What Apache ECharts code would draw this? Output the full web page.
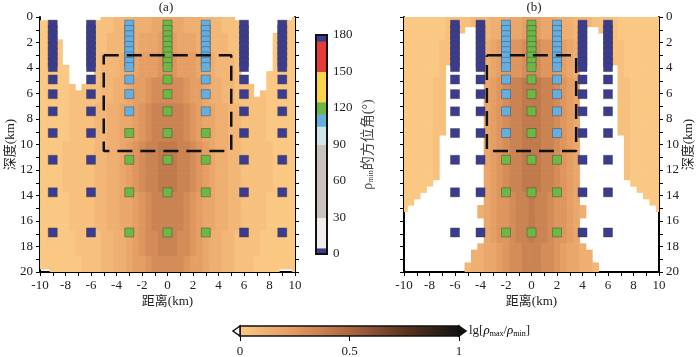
<!DOCTYPE html>
<html><head><meta charset="utf-8">
<script src="https://cdn.jsdelivr.net/npm/echarts@6/dist/echarts.min.js"></script>
<style>html,body{margin:0;padding:0;background:#fff}#c{width:700px;height:357px}</style>
</head><body><div id="c"></div>
<script>
// ---------------- data ----------------
const distTicks = [-10,-8,-6,-4,-2,0,2,4,6,8,10];
const depthTicks = [0,2,4,6,8,10,12,14,16,18,20];
const aziTicks = [0,30,60,90,120,150,180];
const ratioTicks = [0,0.5,1];

// cell centres of the gridded lg(rho_max/rho_min) field (km)
const cellX = [-10,-9.5,-9,-8.5,-8,-7.5,-7,-6.5,-6,-5.5,-5,-4.5,-4,-3.5,-3,-2.5,-2,-1.5,-1,-0.5,0,0.5,1,1.5,2,2.5,3,3.5,4,4.5,5,5.5,6,6.5,7,7.5,8,8.5,9,9.5,10];
const cellDepth = [0,0.5,1,1.5,2,2.5,3,3.5,4,4.5,5,5.5,6,6.5,7,7.5,8,8.5,9,9.5,10,10.5,11,11.5,12,12.5,13,13.5,14,14.5,15,15.5,16,16.5,17,17.5,18,18.5,19,19.5,20];
// one string per depth row, one digit per cell (level * ratioStep), '.' = no value; '|' only separates x<0 | x=0 | x>0
const ratioStep = 0.045;
const ratioA = [
"..........1122233344|4|4433322211.........0",
"000......11122233344|4|44333222111.......00",
"000......11122233344|4|44333222111.......00",
"000......11222334445|5|54443322211.....0000",
"0000.....11222334445|5|54443322211.....0000",
"0000.....11222334445|5|54443322211.....0000",
"0000.....12223345556|6|65554332221.....0000",
"0000.....12223345556|6|65554332221.....0000",
"00000....12223345556|6|65554332221.....0000",
"00000....12223345556|6|65554332221....00000",
"00000....12233455677|7|77655433221....00000",
"000001.1112233455677|7|7765543322111..00000",
"00000111112233455677|7|7765543322111.100000",
"00000111112233455677|7|77655433221111100000",
"00000111122334456788|8|88765443322111100000",
"00000111122334456788|8|88765443322111100000",
"00000111122334456788|8|88765443322111100000",
"00000111122334456788|8|88765443322111100000",
"00000111122334456788|8|88765443322111100000",
"00000111122334456788|8|88765443322111100000",
"00001111122334567889|9|98876543322111110000",
"00001111122334567889|9|98876543322111110000",
"00001111122334567889|9|98876543322111110000",
"00001111122334567889|9|98876543322111110000",
"00001111122334567889|9|98876543322111110000",
"00001111122334567889|9|98876543322111110000",
"00001111122334567889|9|98876543322111110000",
"00001111122334567889|9|98876543322111110000",
"00000111122334456788|8|88765443322111100000",
"00000111122334456788|8|88765443322111100000",
"00000111122334456788|8|88765443322111100000",
"00000111122334456788|8|88765443322111100000",
"00000111122334456788|8|88765443322111100000",
"00000111122334456788|8|88765443322111100000",
"00000011112233456778|8|87765433221111000000",
"00000011112233456778|8|87765433221111000000",
"00000011112233456778|8|87765433221111000000",
"00000011112233456778|8|87765433221111000000",
"00000001112233455677|7|77655433221110000000",
"00000001112233455677|7|77655433221110000000",
"..000001112233455677|7|77655433221110000..0"
];
const ratioB = [
"00000001111222333445|5|54433322211110000000",
"00000001111222333445|5|54433322211110000000",
"0000000111...2333445|5|5443332...1110000000",
"00000001.....2333445|5|5443332.....10000000",
"00000011.....3455667|7|7665543.....11000000",
"00000011.....3455667|7|7665543.....11000000",
"00000011.....3455667|7|7665543.....11000000",
"00000011.....3455667|7|7665543.....11000000",
"0000001......3455667|7|7665543......1000000",
"0000001......3455667|7|7665543......1000000",
"0000011......4567889|9|9887654......1100000",
"0000011......4567889|9|9887654......1100000",
"0000011......4567889|9|9887654......1100000",
"0000011......4567889|9|9887654......1100000",
"0000011......4567889|9|9887654......1100000",
"0000011......4567889|9|9887654......1100000",
"0000011......4567889|9|9887654......1100000",
"0000011......4567889|9|9887654......1100000",
"0000011......4567889|9|9887654......1100000",
"000001.......4567889|9|9887654.......100000",
"000001.......4567889|9|9887654.......100000",
"000001.......4567889|9|9887654.......100000",
"000001.......4567889|9|9887654.......100000",
"000001.......4567889|9|9887654.......100000",
"000001.......4567889|9|9887654.......100000",
"000001.......4567889|9|9887654.......100000",
"00000........4567889|9|9887654........00000",
"0000.........4567889|9|9887654.........0000",
"000..........4566788|9|8876654..........000",
"00...........4566788|9|8876654...........00",
"0...........34566788|9|88766543...........0",
"............34566788|9|88766543............",
".............4566788|9|8876654.............",
".............4566788|9|8876654.............",
".............4566788|9|8876654.............",
".............4566788|9|8876654.............",
"............34456778|8|87765443............",
"...........334456778|8|877654433...........",
"...........334456778|8|877654433...........",
"..........2334456778|8|8776544332..........",
"..........2334456778|8|8776544332.........."
];

// stations (squares): x positions, depths, azimuth of rho_min (deg) per column
const stationXA = [-9,-6,-3,0,3,6,9];
const stationXB = [-6,-4,-2,0,2,4,6];
const stationDepth = [0.6,1.02,1.43,1.85,2.27,2.68,3.1,3.52,3.93,4.9,6.05,7.4,9.1,11.2,13.75,16.9];
const aziA = [
 [0,0,0,0,0,0,0,0,0,0,0,0,0,0,0,0],
 [0,0,0,0,0,0,0,0,0,0,0,0,0,0,0,0],
 [110,110,110,110,110,110,110,110,110,110,110,110,120,120,120,120],
 [120,120,120,120,120,120,120,120,120,120,120,120,120,120,120,120],
 [110,110,110,110,110,110,110,110,110,110,110,110,120,120,120,120],
 [0,0,0,0,0,0,0,0,0,0,0,0,0,0,0,0],
 [0,0,0,0,0,0,0,0,0,0,0,0,0,0,0,0]
];
const aziB = [
 [0,0,0,0,0,0,0,0,0,0,0,0,0,0,0,0],
 [0,0,0,0,0,0,0,0,0,0,0,0,0,0,0,0],
 [110,110,110,110,110,110,110,110,110,110,110,110,110,120,120,120],
 [120,120,120,120,120,120,120,120,120,120,120,120,120,120,120,120],
 [110,110,110,110,110,110,110,110,110,110,110,110,110,120,120,120],
 [0,0,0,0,0,0,0,0,0,0,0,0,0,0,0,0],
 [0,0,0,0,0,0,0,0,0,0,0,0,0,0,0,0]
];
// dashed boxes [xmin, depthTop, xmax, depthBottom]
const boxA = [-5, 3, 5, 10.5];
const boxB = [-3.5, 3, 3.5, 10.5];

// azimuth colour scale
const aziBreaks = [0,5,30,90,105,115,125,150,175,180];
const aziColors = ['#3c3c8e','#f3eded','#cbc2be','#cee6e8','#63afe0','#6cb843','#fad449','#e53b3b','#3c3c8e'];

// ---------------- styling helpers ----------------
const SERIF = "'Liberation Serif','Noto Sans CJK SC',serif";
const cmapStops = [[0,[251,200,131]],[0.25,[226,154,97]],[0.5,[172,102,62]],[0.75,[92,52,32]],[1,[18,18,18]]];
function copper(t){
  t = Math.max(0, Math.min(1, t));
  for (let k = 1; k < cmapStops.length; k++){
    const t0 = cmapStops[k-1][0], c0 = cmapStops[k-1][1], t1 = cmapStops[k][0], c1 = cmapStops[k][1];
    if (t <= t1){ const f = (t-t0)/(t1-t0); return 'rgb(' + c0.map((c,q)=>Math.round(c+(c1[q]-c)*f)).join(',') + ')'; }
  }
  return '#000';
}
function aziColor(v){
  for (let k = 0; k < aziColors.length; k++){ if (v >= aziBreaks[k] && v < aziBreaks[k+1]) return aziColors[k]; }
  return aziColors[aziColors.length-1];
}
function parseGrid(rows){
  const out = [];
  rows.forEach((r, j) => {
    const s = r.replace(/\|/g, '');
    for (let i = 0; i < s.length; i++){
      if (s[i] === '.') continue;
      out.push([cellX[i], cellDepth[j], Number(s[i]) * ratioStep]);
    }
  });
  return out;
}
function stations(xs, azi){
  const out = [];
  xs.forEach((x, c) => stationDepth.forEach((d, k) => out.push([x, d, azi[c][k]])));
  return out;
}
function boxPath(b){ return [[b[0],b[1]],[b[2],b[1]],[b[2],b[3]],[b[0],b[3]],[b[0],b[1]]]; }

function heatItem(params, api){
  const x = api.value(0), d = api.value(1), v = api.value(2);
  const p0 = api.coord([x-0.25, d-0.25]), p1 = api.coord([x+0.25, d+0.25]);
  const cs = params.coordSys;
  const r = echarts.graphic.clipRectByRect({
    x: Math.min(p0[0],p1[0]), y: Math.min(p0[1],p1[1]),
    width: Math.abs(p1[0]-p0[0]) + 0.6, height: Math.abs(p1[1]-p0[1]) + 0.6
  }, {x: cs.x, y: cs.y, width: cs.width, height: cs.height});
  if (!r) return null;
  return {type:'rect', shape:r, style:{fill: copper(v)}};
}

const labelStyle = {fontFamily:SERIF, fontSize:13, color:'#222'};
function xAx(gi){
  return {type:'value', gridIndex:gi, min:distTicks[0], max:distTicks[distTicks.length-1], interval:distTicks[1]-distTicks[0],
    position:'bottom',
    axisLine:{show:true, onZero:false, lineStyle:{color:'#000', width:2}},
    axisTick:{show:true, inside:false, length:4, lineStyle:{color:'#000', width:1}},
    minorTick:{show:true, splitNumber:2, length:4, lineStyle:{color:'#000', width:1}},
    splitLine:{show:false}, minorSplitLine:{show:false},
    axisLabel:Object.assign({margin:7}, labelStyle),
    name:'距离(km)', nameLocation:'middle', nameGap:23, nameMoveOverlap:false,
    nameTextStyle:Object.assign({}, labelStyle)};
}
function yAx(gi, pos, withLabels){
  const a = {type:'value', gridIndex:gi, min:depthTicks[0], max:depthTicks[depthTicks.length-1], interval:depthTicks[1]-depthTicks[0],
    inverse:true, position:pos,
    axisLine:{show:true, onZero:false, lineStyle:{color:'#000', width:2}},
    axisTick:{show:true, inside:false, length:4, lineStyle:{color:'#000', width:1}},
    minorTick:{show:true, splitNumber:2, length:4, lineStyle:{color:'#000', width:1}},
    splitLine:{show:false}, minorSplitLine:{show:false},
    axisLabel:Object.assign({show:withLabels, margin:7}, labelStyle)};
  if (withLabels){
    a.name = '深度(km)'; a.nameLocation = 'middle'; a.nameGap = 23; a.nameRotate = 90; a.nameMoveOverlap = false;
    a.nameTextStyle = Object.assign({}, labelStyle);
  }
  return a;
}

const aziSegments = aziColors.map((c, k) => [aziBreaks[k], aziBreaks[k+1], k]);

const chart = echarts.init(document.getElementById('c'), null, {renderer:'canvas'});
const option = {
  animation:false,
  backgroundColor:'#fff',
  grid:[
    {left:40, top:17, width:255, height:255, outerBoundsMode:'none'},
    {left:404, top:17, width:255, height:255, outerBoundsMode:'none'},
    {left:316, top:35, width:11, height:219, outerBoundsMode:'none'},
    {left:240, top:326, width:219, height:10, outerBoundsMode:'none'}
  ],
  xAxis:[
    xAx(0), xAx(1),
    {type:'value', gridIndex:2, min:0, max:1, show:false},
    {type:'value', gridIndex:3, min:ratioTicks[0], max:ratioTicks[ratioTicks.length-1], interval:ratioTicks[1]-ratioTicks[0],
      position:'bottom', axisLine:{show:false}, splitLine:{show:false},
      axisTick:{show:true, inside:false, length:5, lineStyle:{color:'#000', width:1}},
      axisLabel:Object.assign({margin:9}, labelStyle)}
  ],
  yAxis:[
    yAx(0,'left',true), yAx(0,'right',false), yAx(1,'left',false), yAx(1,'right',true),
    {type:'value', gridIndex:2, min:aziTicks[0], max:aziTicks[aziTicks.length-1], interval:aziTicks[1]-aziTicks[0], position:'right',
      axisLine:{show:false}, splitLine:{show:false}, minorSplitLine:{show:false},
      axisTick:{show:true, inside:false, length:4, lineStyle:{color:'#000', width:1}},
      minorTick:{show:true, splitNumber:3, length:2, lineStyle:{color:'#000', width:1}},
      axisLabel:Object.assign({margin:6}, labelStyle),
      name:'{r|ρ}{s|min}{c|的方位角(°)}', nameLocation:'middle', nameGap:34, nameRotate:90, nameMoveOverlap:false,
      nameTextStyle:{fontFamily:SERIF, fontSize:14, color:'#444',
        rich:{r:{fontFamily:SERIF, fontSize:14, color:'#444'},
              s:{fontFamily:SERIF, fontSize:8, color:'#444', verticalAlign:'bottom', lineHeight:10, padding:[6,0,0,0]},
              c:{fontFamily:SERIF, fontSize:14, color:'#444'}}}},
    {type:'value', gridIndex:3, min:0, max:1, show:false}
  ],
  series:[
    {type:'custom', xAxisIndex:0, yAxisIndex:0, data:parseGrid(ratioA), renderItem:heatItem, z:1, silent:true},
    {type:'custom', xAxisIndex:1, yAxisIndex:3, data:parseGrid(ratioB), renderItem:heatItem, z:1, silent:true},
    {type:'scatter', xAxisIndex:0, yAxisIndex:0, data:stations(stationXA, aziA), symbol:'rect', symbolSize:9, z:3,
      itemStyle:{color:p => aziColor(p.value[2]), borderColor:'rgba(60,60,80,0.55)', borderWidth:0.8, opacity:1}},
    {type:'scatter', xAxisIndex:1, yAxisIndex:3, data:stations(stationXB, aziB), symbol:'rect', symbolSize:9, z:3,
      itemStyle:{color:p => aziColor(p.value[2]), borderColor:'rgba(60,60,80,0.55)', borderWidth:0.8, opacity:1}},
    {type:'line', xAxisIndex:0, yAxisIndex:0, data:boxPath(boxA), symbol:'none', z:4, silent:true,
      lineStyle:{color:'#111', width:2.5, type:[15,8]}},
    {type:'line', xAxisIndex:1, yAxisIndex:3, data:boxPath(boxB), symbol:'none', z:4, silent:true,
      lineStyle:{color:'#111', width:2.5, type:[15,8]}},
    // vertical azimuth colour bar
    {type:'custom', xAxisIndex:2, yAxisIndex:4, data:aziSegments, silent:true, z:2,
      renderItem:(params, api) => {
        const p0 = api.coord([0, api.value(0)]), p1 = api.coord([1, api.value(1)]);
        return {type:'rect', shape:{x:p0[0], y:Math.min(p0[1],p1[1]), width:p1[0]-p0[0], height:Math.abs(p1[1]-p0[1])+0.5},
          style:{fill:aziColors[api.value(2)]}};
      }},
    {type:'custom', xAxisIndex:2, yAxisIndex:4, data:[[aziTicks[0], aziTicks[aziTicks.length-1]]], silent:true, z:3,
      renderItem:(params, api) => {
        const p0 = api.coord([0, api.value(0)]), p1 = api.coord([1, api.value(1)]);
        return {type:'rect', shape:{x:p0[0], y:p1[1], width:p1[0]-p0[0], height:p0[1]-p1[1]},
          style:{fill:'none', stroke:'#111', lineWidth:2}};
      }},
    // horizontal ratio colour bar
    {type:'custom', xAxisIndex:3, yAxisIndex:5, data:[[ratioTicks[0], ratioTicks[ratioTicks.length-1]]], silent:true, z:2,
      renderItem:(params, api) => {
        const p0 = api.coord([api.value(0), 0]), p1 = api.coord([api.value(1), 1]);
        const x0 = p0[0], x1 = p1[0], yt = p1[1], yb = p0[1], ym = (yt+yb)/2, tw = 7;
        const grad = new echarts.graphic.LinearGradient(0,0,1,0, cmapStops.map(s => ({offset:s[0], color:copper(s[0])})));
        return {type:'group', children:[
          {type:'rect', shape:{x:x0, y:yt, width:x1-x0, height:yb-yt}, style:{fill:grad, stroke:'#111', lineWidth:1.5}},
          {type:'polygon', shape:{points:[[x0,yt],[x0-tw,ym],[x0,yb]]}, style:{fill:'#fff', stroke:'#111', lineWidth:1.5}},
          {type:'polygon', shape:{points:[[x1,yt],[x1+tw,ym],[x1,yb]]}, style:{fill:'#111', stroke:'#111', lineWidth:1.5}}
        ]};
      }}
  ],
  graphic:[
    {type:'text', x:166, y:8, style:{text:'(a)', font:"13px 'Liberation Serif', serif", fill:'#222', align:'center', verticalAlign:'middle'}},
    {type:'text', x:534, y:8, style:{text:'(b)', font:"13px 'Liberation Serif', serif", fill:'#222', align:'center', verticalAlign:'middle'}},
    {type:'text', x:469, y:331, style:{text:'{n|lg[}{i|ρ}{s|max}{n|/}{i|ρ}{s|min}{n|]}', align:'left', verticalAlign:'middle',
      rich:{n:{fontFamily:SERIF, fontSize:13, fill:'#222', color:'#222'},
            i:{fontFamily:SERIF, fontSize:13, fontStyle:'italic', color:'#222'},
            s:{fontFamily:SERIF, fontSize:8, color:'#222', verticalAlign:'bottom', lineHeight:10, padding:[6,0,0,0]}}}}
  ]
};
chart.setOption(option);
</script>
</body></html>
